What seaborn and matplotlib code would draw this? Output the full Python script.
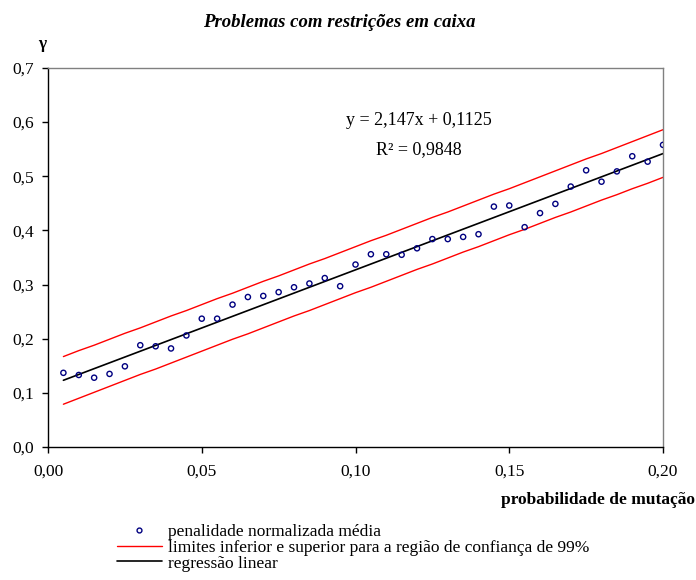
import numpy as np
import pandas as pd
import matplotlib
matplotlib.use('Agg')
import matplotlib.pyplot as plt
import seaborn as sns
from matplotlib.lines import Line2D

# DADOS
prob = [round(0.005 * k, 3) for k in range(1, 41)]

penalidade = [0.137, 0.133, 0.128, 0.135, 0.149, 0.188, 0.186, 0.182, 0.206, 0.237,
              0.237, 0.263, 0.277, 0.279, 0.286, 0.295, 0.302, 0.312, 0.297, 0.337,
              0.356, 0.356, 0.355, 0.367, 0.384, 0.384, 0.388, 0.393, 0.444, 0.446,
              0.406, 0.432, 0.449, 0.481, 0.511, 0.490, 0.509, 0.537, 0.527, 0.558]

limite_inf = [0.079, 0.090, 0.101, 0.112, 0.123, 0.134, 0.144, 0.155, 0.166, 0.177,
              0.188, 0.199, 0.209, 0.220, 0.231, 0.242, 0.252, 0.263, 0.274, 0.285,
              0.295, 0.306, 0.317, 0.328, 0.338, 0.349, 0.360, 0.370, 0.381, 0.392,
              0.402, 0.413, 0.424, 0.434, 0.445, 0.456, 0.466, 0.477, 0.487, 0.498]

limite_sup = [0.167, 0.178, 0.188, 0.199, 0.210, 0.220, 0.231, 0.242, 0.252, 0.263,
              0.274, 0.284, 0.295, 0.306, 0.316, 0.327, 0.338, 0.348, 0.359, 0.370,
              0.381, 0.391, 0.402, 0.413, 0.424, 0.434, 0.445, 0.456, 0.467, 0.477,
              0.488, 0.499, 0.510, 0.521, 0.532, 0.542, 0.553, 0.564, 0.575, 0.586]

# regressao linear (da equacao no grafico)
coef_a = 2.147
coef_b = 0.1125

xticks = [0.0, 0.05, 0.10, 0.15, 0.20]
xtick_labels = ['0,00', '0,05', '0,10', '0,15', '0,20']
yticks = [0.0, 0.1, 0.2, 0.3, 0.4, 0.5, 0.6, 0.7]
ytick_labels = ['0,0', '0,1', '0,2', '0,3', '0,4', '0,5', '0,6', '0,7']

df = pd.DataFrame({'prob': prob, 'pen': penalidade,
                   'inf': limite_inf, 'sup': limite_sup})
df['reg'] = coef_a * df['prob'] + coef_b

# PLOT
sns.set_style('white')
plt.rcParams['font.family'] = ['Liberation Serif', 'DejaVu Serif']
plt.rcParams['text.color'] = 'black'
plt.rcParams['xtick.color'] = 'black'
plt.rcParams['ytick.color'] = 'black'

fig = plt.figure(figsize=(6.96, 5.80), dpi=100)
ax = fig.add_axes([0.069, 0.2293, 0.8836, 0.6535])

sns.lineplot(data=df, x='prob', y='inf', color='red', linewidth=1.0, ax=ax)
sns.lineplot(data=df, x='prob', y='sup', color='red', linewidth=1.0, ax=ax)
sns.lineplot(data=df, x='prob', y='reg', color='black', linewidth=1.2, ax=ax)
sns.scatterplot(data=df, x='prob', y='pen', marker='o', s=14,
                facecolor='none', edgecolor='#000080', linewidth=1.0, ax=ax, zorder=5)

ax.set_xlim(0, 0.20)
ax.set_ylim(0, 0.7)
ax.set_xticks(xticks)
ax.set_xticklabels(xtick_labels, fontsize=12.5)
ax.set_yticks(yticks)
ax.set_yticklabels(ytick_labels, fontsize=12.5)
ax.tick_params(axis='both', direction='out', length=4, width=1, color='black',
               labelcolor='black', left=True, bottom=True)
ax.tick_params(axis='x', pad=8)
ax.tick_params(axis='y', pad=6)
ax.set_xlabel('')
ax.set_ylabel('')

for s in ['left', 'bottom']:
    ax.spines[s].set_color('black')
    ax.spines[s].set_linewidth(1.0)
for s in ['top', 'right']:
    ax.spines[s].set_color('#808080')
    ax.spines[s].set_linewidth(1.0)

fig.text(0.487, 0.962, 'Problemas com restrições em caixa', ha='center', va='center',
         fontsize=13.5, fontweight='bold', fontstyle='italic')
fig.text(0.06, 0.925, 'γ', ha='center', va='center', fontsize=12.5, fontweight='bold')
fig.text(0.999, 0.138, 'probabilidade de mutação', ha='right', va='center',
         fontsize=12.5, fontweight='bold')

ax.text(0.1206, 0.603, 'y = 2,147x + 0,1125', ha='center', va='center', fontsize=13)
ax.text(0.1205, 0.550, 'R² = 0,9848', ha='center', va='center', fontsize=13)

handles = [
    Line2D([], [], linestyle='none', marker='o', markersize=3.5, markerfacecolor='none',
           markeredgecolor='#000080', markeredgewidth=1.0),
    Line2D([], [], color='red', linewidth=1.0),
    Line2D([], [], color='black', linewidth=1.2),
]
labels = ['penalidade normalizada média',
          'limites inferior e superior para a região de confiança de 99%',
          'regressão linear']
fig.legend(handles, labels, loc='upper left', bbox_to_anchor=(0.168, 0.097),
           frameon=False, fontsize=12.5, handlelength=2.6, handletextpad=0.35,
           labelspacing=-0.02, borderpad=0, borderaxespad=0)

fig.savefig('out.png', dpi=100)
